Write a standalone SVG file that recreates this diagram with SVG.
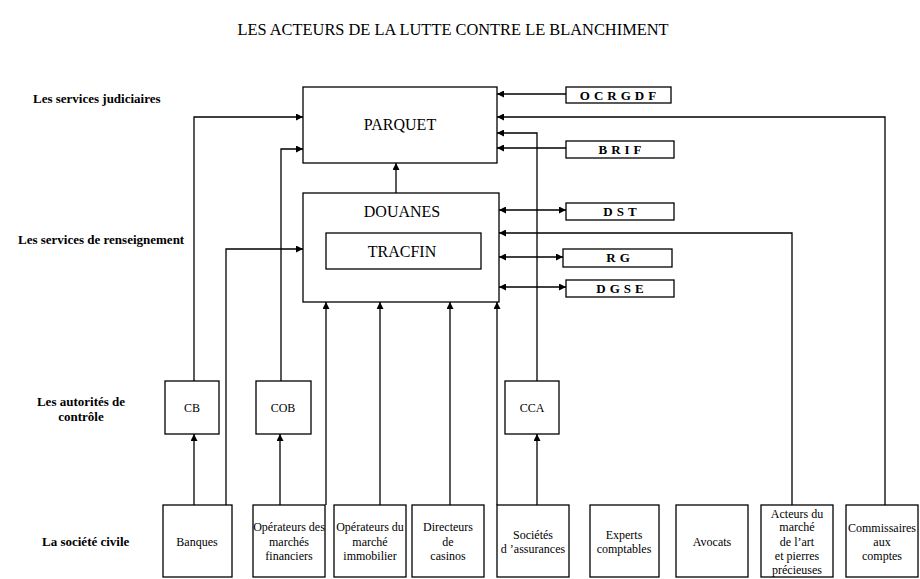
<svg xmlns="http://www.w3.org/2000/svg" width="920" height="579" viewBox="0 0 920 579" font-family="Liberation Serif, serif">
<defs>
<marker id="ah" viewBox="0 0 10 10" refX="10" refY="5" markerWidth="9" markerHeight="7" markerUnits="userSpaceOnUse" orient="auto-start-reverse">
<path d="M0,0 L10,5 L0,10 z" fill="#000"/>
</marker>
<style>
.b{fill:#fff;stroke:#000;stroke-width:1.3}
.c{fill:none;stroke:#000;stroke-width:1.3}
.t{font-family:Liberation Serif,serif;fill:#000}
.big{font-size:16px;text-anchor:middle}
.lab{font-size:13px;font-weight:bold}
.sb{font-size:13px;font-weight:bold;text-anchor:middle;letter-spacing:4px}
.n{font-size:12px;text-anchor:middle}
</style>
</defs>
<rect width="920" height="579" fill="#fff"/>
<text class="t" x="453" y="35" font-size="16.4" text-anchor="middle">LES ACTEURS DE LA LUTTE CONTRE LE BLANCHIMENT</text>
<g class="t lab">
<text x="33" y="103">Les services judiciaires</text>
<text x="18" y="244">Les services de renseignement</text>
<text x="81" y="406" text-anchor="middle">Les autorités de</text>
<text x="81" y="421" text-anchor="middle">contrôle</text>
<text x="42" y="546">La société civile</text>
</g>
<g id="connectors" class="c">
<line x1="396" y1="193" x2="396" y2="163" marker-end="url(#ah)"/>
<line x1="566" y1="94" x2="497" y2="94" marker-end="url(#ah)"/>
<polyline points="885,505 885,117 497,117" marker-end="url(#ah)"/>
<polyline points="537,381 537,133 497,133" marker-end="url(#ah)"/>
<line x1="566" y1="148" x2="497" y2="148" marker-end="url(#ah)"/>
<line x1="499" y1="210" x2="566" y2="210" marker-start="url(#ah)" marker-end="url(#ah)"/>
<polyline points="792,505 792,233 499,233" marker-end="url(#ah)"/>
<line x1="499" y1="257" x2="563" y2="257" marker-start="url(#ah)" marker-end="url(#ah)"/>
<line x1="499" y1="287" x2="566" y2="287" marker-start="url(#ah)" marker-end="url(#ah)"/>
<polyline points="194,381 194,117 303,117" marker-end="url(#ah)"/>
<polyline points="281,381 281,149 303,149" marker-end="url(#ah)"/>
<polyline points="226,505 226,249 303,249" marker-end="url(#ah)"/>
<line x1="326" y1="505" x2="326" y2="302" marker-end="url(#ah)"/>
<line x1="380" y1="505" x2="380" y2="302" marker-end="url(#ah)"/>
<line x1="450" y1="505" x2="450" y2="302" marker-end="url(#ah)"/>
<line x1="497" y1="505" x2="497" y2="302" marker-end="url(#ah)"/>
<line x1="194" y1="505" x2="194" y2="434" marker-end="url(#ah)"/>
<line x1="280" y1="505" x2="280" y2="434" marker-end="url(#ah)"/>
<line x1="537" y1="505" x2="537" y2="434" marker-end="url(#ah)"/>
</g>
<g id="parquet"><rect class="b" x="303" y="87" width="194" height="76"/><text class="t big" x="400" y="130">PARQUET</text></g>
<g id="douanes"><rect class="b" x="303" y="193" width="196" height="109"/><text class="t big" x="402" y="217">DOUANES</text></g>
<g id="tracfin"><rect class="b" x="326" y="233" width="155" height="36"/><text class="t big" x="402" y="257">TRACFIN</text></g>
<g id="ocrgdf"><rect class="b" x="566" y="87" width="105" height="16"/><text class="t sb" x="620" y="100">OCRGDF</text></g>
<g id="brif"><rect class="b" x="566" y="141" width="108" height="17"/><text class="t sb" x="622" y="154">BRIF</text></g>
<g id="dst"><rect class="b" x="566" y="203" width="108" height="17"/><text class="t sb" x="622" y="216">DST</text></g>
<g id="rg"><rect class="b" x="563" y="249" width="109" height="18"/><text class="t sb" x="620" y="262">RG</text></g>
<g id="dgse"><rect class="b" x="566" y="280" width="108" height="17"/><text class="t sb" x="622" y="293">DGSE</text></g>
<g id="cb"><rect class="b" x="165" y="381" width="54" height="53"/><text class="t n" x="192" y="412">CB</text></g>
<g id="cob"><rect class="b" x="256" y="381" width="55" height="53"/><text class="t n" x="283" y="412">COB</text></g>
<g id="cca"><rect class="b" x="505" y="381" width="54" height="53"/><text class="t n" x="532" y="412">CCA</text></g>
<g id="banques"><rect class="b" x="163" y="505" width="69" height="72"/><text class="t n" x="197" y="546">Banques</text></g>
<g id="opfin"><rect class="b" x="253" y="505" width="72" height="72"/><text class="t n" x="289" y="531">Opérateurs des</text><text class="t n" x="289" y="546">marchés</text><text class="t n" x="289" y="560">financiers</text></g>
<g id="opimmo"><rect class="b" x="334" y="505" width="72" height="72"/><text class="t n" x="370" y="531">Opérateurs du</text><text class="t n" x="370" y="546">marché</text><text class="t n" x="370" y="560">immobilier</text></g>
<g id="casinos"><rect class="b" x="412" y="505" width="72" height="72"/><text class="t n" x="448" y="531">Directeurs</text><text class="t n" x="448" y="546">de</text><text class="t n" x="448" y="560">casinos</text></g>
<g id="assurances"><rect class="b" x="497" y="505" width="72" height="72"/><text class="t n" x="533" y="539">Sociétés</text><text class="t n" x="533" y="553">d ’assurances</text></g>
<g id="experts"><rect class="b" x="590" y="505" width="69" height="72"/><text class="t n" x="624" y="539">Experts</text><text class="t n" x="624" y="553">comptables</text></g>
<g id="avocats"><rect class="b" x="676" y="505" width="72" height="72"/><text class="t n" x="712" y="546">Avocats</text></g>
<g id="art"><rect class="b" x="761" y="505" width="72" height="72"/><text class="t n" x="797" y="518">Acteurs du</text><text class="t n" x="797" y="531">marché</text><text class="t n" x="797" y="546">de l’art</text><text class="t n" x="797" y="560">et  pierres</text><text class="t n" x="797" y="574">précieuses</text></g>
<g id="commissaires"><rect class="b" x="846" y="505" width="72" height="72"/><text class="t n" x="882" y="532">Commissaires</text><text class="t n" x="882" y="546">aux</text><text class="t n" x="882" y="560">comptes</text></g>
</svg>
